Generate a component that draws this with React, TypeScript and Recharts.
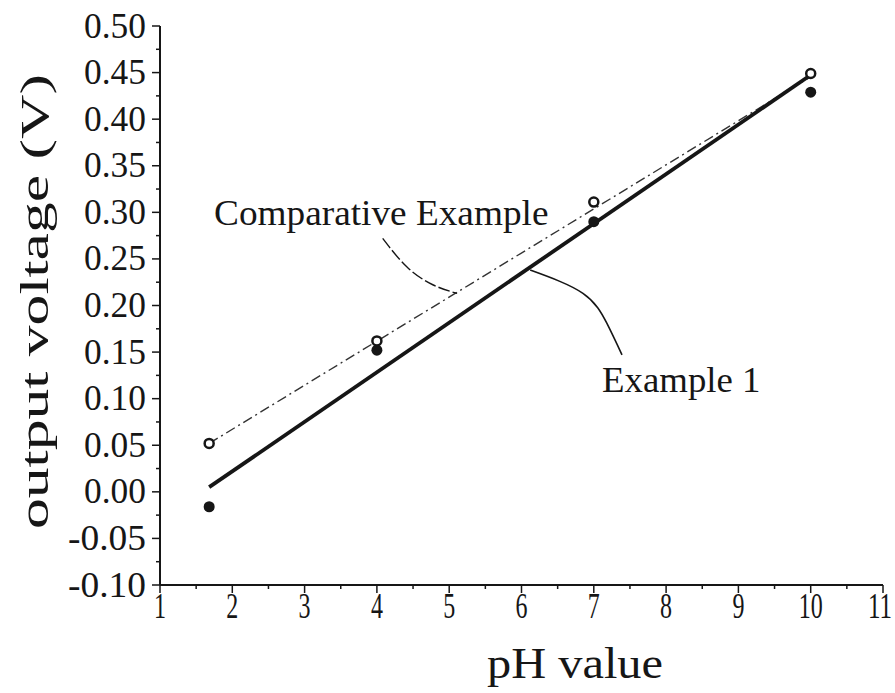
import React from "react";
import {
  ComposedChart,
  Line,
  Scatter,
  XAxis,
  YAxis,
} from "recharts";

// measured points (pH, output voltage in V)
const phValues = [1.68, 4, 7, 10];
const comparativeVolts = [0.052, 0.162, 0.311, 0.449];
const example1Volts = [-0.016, 0.152, 0.29, 0.429];

// fitted lines, end points only
const comparativeFitX = [1.68, 10.03];
const comparativeFitY = [0.052, 0.447];
const example1FitX = [1.68, 10.03];
const example1FitY = [0.005, 0.449];

// annotation leaders (data coords)
const compLeaderX = [4.08, 4.42, 4.78, 5.11];
const compLeaderY = [0.272, 0.241, 0.222, 0.213];
const ex1LeaderX = [6.12, 6.85, 7.18, 7.39];
const ex1LeaderY = [0.238, 0.213, 0.181, 0.147];

const annotations = [
  { x: 4.06, y: 0.299, label: "Comparative Example" },
  { x: 8.21, y: 0.12, label: "Example 1" },
];

const xTicks = [1, 1.5, 2, 2.5, 3, 3.5, 4, 4.5, 5, 5.5, 6, 6.5, 7, 7.5, 8, 8.5, 9, 9.5, 10, 10.5, 11];
const yTicks = [
  -0.1, -0.075, -0.05, -0.025, 0, 0.025, 0.05, 0.075, 0.1, 0.125, 0.15, 0.175, 0.2,
  0.225, 0.25, 0.275, 0.3, 0.325, 0.35, 0.375, 0.4, 0.425, 0.45, 0.475, 0.5,
];

const INK = "#161616";
const FONT = "'Liberation Serif', 'DejaVu Serif', serif";
const CHAR_W = 16; // looks like a fixed-pitch font in the scan

const zip = (xs: number[], ys: number[]) => xs.map((x, i) => ({ x, y: ys[i] }));

const comparativePts = zip(phValues, comparativeVolts);
const example1Pts = zip(phValues, example1Volts);
const comparativeFit = zip(comparativeFitX, comparativeFitY);
const example1Fit = zip(example1FitX, example1FitY);
const compLeader = zip(compLeaderX, compLeaderY);
const ex1Leader = zip(ex1LeaderX, ex1LeaderY);

function YTick(props: any) {
  const { x, y, payload } = props;
  const v = payload.value as number;
  const major = Math.abs(v * 20 - Math.round(v * 20)) < 1e-6;
  const s = v.toFixed(2);
  return (
    <g>
      <line x1={x - (major ? 8 : 4)} x2={x} y1={y} y2={y} stroke={INK} strokeWidth={1.5} />
      {major && (
        <text
          transform={`translate(${x - 14},${y}) scale(1,1.4)`}
          textAnchor="end"
          dominantBaseline="central"
          fontFamily={FONT}
          fontSize={25}
          fill={INK}
          textLength={s.length * CHAR_W - 2}
          lengthAdjust="spacingAndGlyphs"
        >
          {s}
        </text>
      )}
    </g>
  );
}

function XTick(props: any) {
  const { x, y, payload } = props;
  const v = payload.value as number;
  const major = Number.isInteger(v);
  const s = String(v);
  const tx = v === 11 ? x - 3 : x;
  return (
    <g>
      <line x1={x} x2={x} y1={y} y2={y + (major ? 8 : 4)} stroke={INK} strokeWidth={1.5} />
      {major && (
        <text
          transform={`translate(${tx},${y + 21}) scale(1,1.4)`}
          textAnchor="middle"
          dominantBaseline="central"
          fontFamily={FONT}
          fontSize={25}
          fill={INK}
          textLength={s.length * 12}
          lengthAdjust="spacingAndGlyphs"
        >
          {s}
        </text>
      )}
    </g>
  );
}

function YTitle(props: any) {
  const vb = props.viewBox || { x: 0, y: 26, width: 160, height: 559 };
  const cy = vb.y + vb.height / 2 - 4;
  return (
    <text
      transform={`translate(48,${cy}) rotate(-90)`}
      textAnchor="middle"
      fontFamily={FONT}
      fontSize={40}
      fill={INK}
      textLength={455}
      lengthAdjust="spacingAndGlyphs"
    >
      output voltage (V)
    </text>
  );
}

function XTitle(props: any) {
  const vb = props.viewBox || { x: 160, y: 585, width: 723, height: 108 };
  return (
    <text
      transform={`translate(${vb.x + 415},${vb.y + 93}) scale(1,1.25)`}
      textAnchor="middle"
      fontFamily={FONT}
      fontSize={35}
      fill={INK}
      textLength={176}
      lengthAdjust="spacingAndGlyphs"
    >
      pH value
    </text>
  );
}

function NoteText(props: any) {
  const { cx, cy } = props;
  const label: string = props.payload?.label ?? props.label;
  return (
    <text
      transform={`translate(${cx},${cy}) scale(1,1.3)`}
      textAnchor="middle"
      dominantBaseline="central"
      fontFamily={FONT}
      fontSize={27}
      fill={INK}
      textLength={label.length * 17.6}
      lengthAdjust="spacingAndGlyphs"
    >
      {label}
    </text>
  );
}

function HollowDot(props: any) {
  const { cx, cy } = props;
  return <circle cx={cx} cy={cy} r={4.5} fill="#fff" stroke={INK} strokeWidth={2.5} />;
}

function FilledDot(props: any) {
  const { cx, cy } = props;
  return <circle cx={cx} cy={cy} r={5.5} fill={INK} />;
}

export default function App() {
  return (
    <div style={{ position: "absolute", left: 0, top: 0, width: 895, height: 693, background: "#fff" }}>
      <ComposedChart
        width={895}
        height={693}
        margin={{ top: 26, right: 12, bottom: 0, left: 0 }}
      >
        <XAxis
          type="number"
          dataKey="x"
          domain={[1, 11]}
          ticks={xTicks}
          interval={0}
          allowDataOverflow
          height={108}
          tickSize={0}
          tickMargin={0}
          tickLine={false}
          tick={<XTick />}
          axisLine={{ stroke: INK, strokeWidth: 2 }}
          label={<XTitle />}
        />
        <YAxis
          type="number"
          dataKey="y"
          domain={[-0.1, 0.5]}
          ticks={yTicks}
          interval={0}
          allowDataOverflow
          width={160}
          tickSize={0}
          tickMargin={0}
          tickLine={false}
          tick={<YTick />}
          axisLine={{ stroke: INK, strokeWidth: 2 }}
          label={<YTitle />}
        />
        <Line
          data={comparativeFit}
          dataKey="y"
          stroke="#333"
          strokeWidth={1.4}
          strokeDasharray="10 4 2 4"
          dot={false}
          isAnimationActive={false}
        />
        <Line
          data={example1Fit}
          dataKey="y"
          stroke={INK}
          strokeWidth={3.8}
          dot={false}
          isAnimationActive={false}
        />
        <Line
          data={compLeader}
          dataKey="y"
          type="natural"
          stroke={INK}
          strokeWidth={1.4}
          strokeDasharray="12 3"
          dot={false}
          isAnimationActive={false}
        />
        <Line
          data={ex1Leader}
          dataKey="y"
          type="natural"
          stroke={INK}
          strokeWidth={1.6}
          dot={false}
          isAnimationActive={false}
        />
        <Scatter data={comparativePts} shape={<HollowDot />} isAnimationActive={false} />
        <Scatter data={example1Pts} shape={<FilledDot />} isAnimationActive={false} />
        <Scatter data={annotations} shape={<NoteText />} isAnimationActive={false} />
      </ComposedChart>
    </div>
  );
}
